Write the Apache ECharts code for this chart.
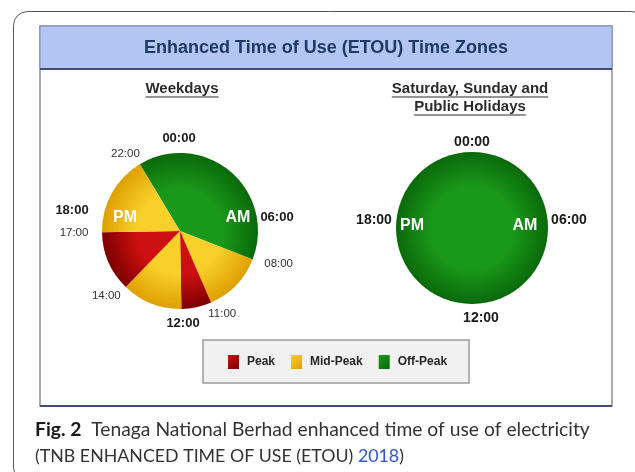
<!DOCTYPE html>
<html>
<head>
<meta charset="utf-8">
<script src="https://cdn.jsdelivr.net/npm/echarts@6/dist/echarts.min.js"></script>
<style>
  html, body { margin: 0; padding: 0; background: #fff; }
  #main { width: 635px; height: 472px; }
</style>
</head>
<body>
<div id="main"></div>
<script>
// values
const zones = ['Peak', 'Mid-Peak', 'Off-Peak'];
const weekdayZones = ['Off-Peak', 'Mid-Peak', 'Peak', 'Mid-Peak', 'Peak', 'Mid-Peak'];
const weekdayHours = [9.5, 3, 1.5, 3, 3, 4];
const weekdayStarts = ['22:00', '08:00', '11:00', '12:00', '14:00', '17:00'];
const weekendZones = ['Off-Peak'];
const weekendHours = [24];
const clockTicks = ['00:00', '06:00', '12:00', '18:00'];

const FONT = '"Liberation Sans", Arial, sans-serif';
const CAP = '"Lato", "Open Sans", sans-serif';

// pie placement (pixels)
const leftPie = {
  c: [180, 231], r: 78, fs: 13,
  ticks: [[-1, -93], [97, -14], [3, 92], [-108, -21]],
  pm: [-55, -13], am: [58, -13]
};
const rightPie = {
  c: [472, 228], r: 76, fs: 14,
  ticks: [[0, -86], [97, -8], [9, 90], [-98, -8]],
  pm: [-60, -2], am: [53, -2]
};
const startDeg = -31; // 22:00 boundary, clockwise from top

const shades = {
  'Peak': ['#cf1010', '#7e0000'],
  'Mid-Peak': ['#f9cf2a', '#dda000'],
  'Off-Peak': ['#1a981a', '#0a690a']
};

function sliceColor(zone, pie) {
  return {
    type: 'radial', x: pie.c[0], y: pie.c[1], r: pie.r, global: true,
    colorStops: [
      { offset: 0, color: shades[zone][0] },
      { offset: 0.55, color: shades[zone][0] },
      { offset: 1, color: shades[zone][1] }
    ]
  };
}
function legendColor(zone) {
  return {
    type: 'linear', x: 0, y: 0, x2: 1, y2: 1,
    colorStops: [
      { offset: 0, color: shades[zone][0] },
      { offset: 1, color: shades[zone][1] }
    ]
  };
}

const ctx = document.createElement('canvas').getContext('2d');
function textWidth(str, font) { ctx.font = font; return ctx.measureText(str).width; }

function txt(str, x, y, font, fill, z) {
  return {
    type: 'text', z: z || 20, silent: true,
    style: { text: str, x: x, y: y, font: font, fill: fill, align: 'center', verticalAlign: 'middle' }
  };
}
function underlined(str, x, y, font) {
  const w = textWidth(str, font);
  return [
    txt(str, x, y, font, '#2b2b2b'),
    { type: 'line', z: 20, silent: true,
      shape: { x1: x - w / 2, y1: y + 8, x2: x + w / 2, y2: y + 8 },
      style: { stroke: '#2b2b2b', lineWidth: 1.2 } }
  ];
}

function clockLabels(pie) {
  const out = [];
  const bold = 'bold ' + pie.fs + 'px ' + FONT;
  clockTicks.forEach((t, i) => {
    out.push(txt(t, pie.c[0] + pie.ticks[i][0], pie.c[1] + pie.ticks[i][1], bold, '#1a1a1a'));
  });
  const wb = 'bold 16px ' + FONT;
  out.push(txt('PM', pie.c[0] + pie.pm[0], pie.c[1] + pie.pm[1], wb, '#ffffff'));
  out.push(txt('AM', pie.c[0] + pie.am[0], pie.c[1] + pie.am[1], wb, '#ffffff'));
  return out;
}

// small labels on the weekday slice boundaries
const boundaryLabels = [];
let cum = 0;
weekdayHours.forEach((h, i) => {
  const t = weekdayStarts[i];
  if (clockTicks.indexOf(t) < 0) {
    const a = (startDeg + cum * 15) * Math.PI / 180;
    boundaryLabels.push(txt(t,
      leftPie.c[0] + 106 * Math.sin(a),
      leftPie.c[1] - 90 * Math.cos(a),
      '11.5px ' + FONT, '#333333'));
  }
  cum += h;
});

const graphics = [
  // outer rounded frame
  { type: 'rect', z: 0, silent: true,
    shape: { x: 13.5, y: 11.5, width: 632, height: 470, r: 14 },
    style: { fill: 'none', stroke: '#555555', lineWidth: 1 } },
  // panel
  { type: 'rect', z: 1, silent: true,
    shape: { x: 40, y: 26, width: 572, height: 380 },
    style: { fill: '#ffffff', stroke: '#8f8f8f', lineWidth: 1.5 } },
  { type: 'rect', z: 2, silent: true,
    shape: { x: 40, y: 26, width: 572, height: 43 },
    style: { fill: '#b3c6f3', stroke: '#7f8fb5', lineWidth: 1 } },
  { type: 'line', z: 3, silent: true,
    shape: { x1: 40, y1: 69, x2: 612, y2: 69 },
    style: { stroke: '#3f4e78', lineWidth: 2 } },
  { type: 'line', z: 3, silent: true,
    shape: { x1: 40, y1: 406, x2: 612, y2: 406 },
    style: { stroke: '#3f4e78', lineWidth: 2 } },
  txt('Enhanced Time of Use (ETOU) Time Zones', 326, 48, 'bold 18px ' + FONT, '#1f3864'),
  ...underlined('Weekdays', 182, 89, 'bold 15px ' + FONT),
  ...underlined('Saturday, Sunday and', 470, 89, 'bold 15px ' + FONT),
  ...underlined('Public Holidays', 470, 107, 'bold 15px ' + FONT),
  ...clockLabels(leftPie),
  ...clockLabels(rightPie),
  ...boundaryLabels,
  // caption
  { type: 'text', z: 20, silent: true,
    style: {
      text: '{b|Fig. 2}  Tenaga National Berhad enhanced time of use of electricity',
      x: 35, y: 430, align: 'left', verticalAlign: 'middle',
      font: '19.3px ' + CAP, fill: '#333333',
      rich: { b: { font: 'bold 19.3px ' + CAP, fill: '#1a1a1a' } }
    } },
  { type: 'text', z: 20, silent: true,
    style: {
      text: '(TNB ENHANCED TIME OF USE (ETOU) {l|2018})',
      x: 35, y: 456, align: 'left', verticalAlign: 'middle',
      font: '17.8px ' + CAP, fill: '#333333',
      rich: { l: { font: '17.8px ' + CAP, fill: '#2f55d4' } }
    } }
];

function pieSeries(pie, names, values, start) {
  return {
    type: 'pie', silent: true, z: 10,
    center: pie.c, radius: pie.r,
    startAngle: start, clockwise: true,
    label: { show: false }, labelLine: { show: false },
    itemStyle: { borderWidth: 0 },
    data: values.map((v, i) => ({
      name: names[i], value: v,
      itemStyle: { color: sliceColor(names[i], pie) }
    }))
  };
}

const chart = echarts.init(document.getElementById('main'));
chart.setOption({
  animation: false,
  backgroundColor: '#ffffff',
  legend: {
    data: zones.map(z => ({ name: z, itemStyle: { color: legendColor(z) } })),
    left: 203, top: 340,
    icon: 'rect', itemWidth: 11, itemHeight: 14, itemGap: 16,
    padding: [15, 22, 14, 25],
    backgroundColor: '#f1f1f1', borderColor: '#9c9c9c', borderWidth: 1.5,
    selectedMode: false,
    textStyle: { fontFamily: FONT, fontWeight: 'bold', fontSize: 12, color: '#262626', padding: [0, 0, 0, 3] }
  },
  graphic: graphics,
  series: [
    pieSeries(leftPie, weekdayZones, weekdayHours, 90 - startDeg),
    pieSeries(rightPie, weekendZones, weekendHours, 90)
  ]
});
</script>
</body>
</html>
